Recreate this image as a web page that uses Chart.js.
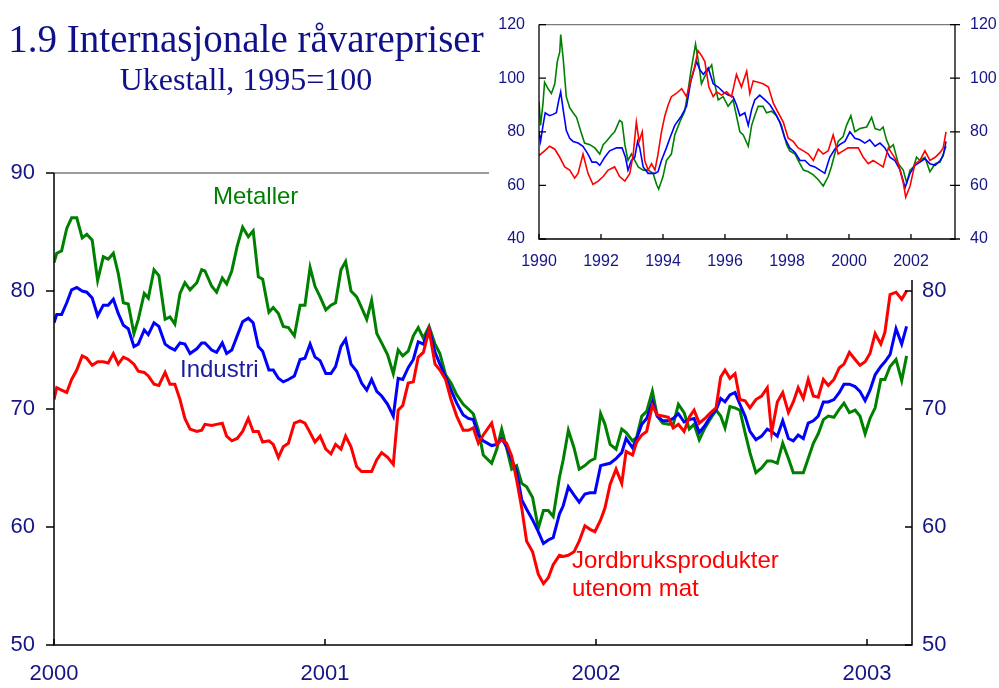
<!DOCTYPE html>
<html>
<head>
<meta charset="utf-8">
<script src="https://cdn.jsdelivr.net/npm/chart.js@4.4.1/dist/chart.umd.min.js"></script>
<style>
  html, body { margin: 0; padding: 0; background: #fff; }
  #wrap { position: relative; width: 999px; height: 688px; overflow: hidden; }
  #mainChart { position: absolute; left: 0; top: 0; }
  #insetChart { position: absolute; left: 489px; top: 0; background: #fff; }
  .t { position: absolute; white-space: nowrap; line-height: 1; }
  .title { font-family: "Liberation Serif", "Times New Roman", serif; color: #10108a; width: 492px; text-align: center; left: 0; }
  .lab { font-family: "Liberation Sans", Arial, sans-serif; font-size: 24px; }
</style>
</head>
<body>
<div id="wrap">
  <canvas id="mainChart" width="999" height="688"></canvas>
  <canvas id="insetChart" width="510" height="280"></canvas>
  <div class="t title" style="top:19px; font-size:39px;">1.9 Internasjonale råvarepriser</div>
  <div class="t title" style="top:63px; font-size:32px;">Ukestall, 1995=100</div>
  <div class="t lab" style="left:213px; top:184px; color:#008000;">Metaller</div>
  <div class="t lab" style="left:180px; top:357px; color:#1c1c9c;">Industri</div>
  <div class="t lab" style="left:572px; top:546px; color:#ff0000; line-height:28px;">Jordbruksprodukter<br>utenom mat</div>
</div>
<script>
// --- main chart: weekly figures 2000 - 2003 ---
const mainWeeks = [
  2000.000, 2000.010, 2000.028, 2000.047, 2000.065, 2000.084, 2000.104, 2000.121, 2000.141, 2000.161,
  2000.182, 2000.200, 2000.219, 2000.237, 2000.256, 2000.274, 2000.295, 2000.311, 2000.333, 2000.348,
  2000.369, 2000.387, 2000.410, 2000.428, 2000.446, 2000.465, 2000.483, 2000.502, 2000.527, 2000.545,
  2000.557, 2000.582, 2000.600, 2000.621, 2000.637, 2000.656, 2000.676, 2000.696, 2000.717, 2000.735,
  2000.754, 2000.770,
  2000.793, 2000.809, 2000.828, 2000.846, 2000.865, 2000.887, 2000.908, 2000.926, 2000.945, 2000.963,
  2000.982, 2001.003, 2001.022, 2001.039, 2001.059, 2001.076, 2001.096, 2001.117, 2001.135, 2001.154,
  2001.172, 2001.191, 2001.209, 2001.231, 2001.252, 2001.270, 2001.287, 2001.307, 2001.326, 2001.344,
  2001.363, 2001.384, 2001.406, 2001.424, 2001.445, 2001.465, 2001.486, 2001.510, 2001.529, 2001.547,
  2001.566, 2001.584,
  2001.615, 2001.634, 2001.652, 2001.670, 2001.689, 2001.707, 2001.726, 2001.744, 2001.766, 2001.787,
  2001.806, 2001.824, 2001.842, 2001.865, 2001.879, 2001.898, 2001.919, 2001.938, 2001.959, 2001.978,
  2001.996, 2002.017, 2002.033, 2002.052, 2002.074, 2002.095, 2002.111, 2002.135, 2002.150, 2002.169,
  2002.187, 2002.208, 2002.226, 2002.246, 2002.267, 2002.285, 2002.304, 2002.325, 2002.344, 2002.362,
  2002.381,
  2002.402, 2002.423, 2002.443, 2002.460, 2002.476, 2002.494, 2002.513, 2002.531, 2002.550, 2002.568,
  2002.590, 2002.611, 2002.632, 2002.648, 2002.669, 2002.689, 2002.710, 2002.728, 2002.746, 2002.765,
  2002.783, 2002.802, 2002.820, 2002.839, 2002.857, 2002.878, 2002.898, 2002.915, 2002.935, 2002.956,
  2002.974, 2002.993, 2003.011, 2003.030, 2003.051, 2003.066, 2003.085, 2003.107, 2003.128, 2003.146
];

const metaller = [
  82.4, 83.2, 83.4, 85.3, 86.2, 86.2, 84.5, 84.8, 84.3, 80.9, 82.9, 82.7, 83.2, 81.5, 79.0, 78.9, 76.4, 77.6, 79.8, 79.4,
  81.8, 81.3, 77.6, 77.8, 77.2, 79.8, 80.7, 80.1, 80.7, 81.8, 81.7, 80.4, 79.9, 81.1, 80.6, 81.7, 83.8, 85.4, 84.6, 85.1,
  81.2, 81.0,
  78.2, 78.6, 78.1, 77.0, 76.9, 76.2, 78.8, 78.8, 82.0, 80.4, 79.5, 78.4, 78.8, 79.0, 81.8, 82.5, 80.0, 79.5, 78.6, 77.6,
  79.2, 76.4, 75.6, 74.6, 73.0, 75.0, 74.5, 74.9, 76.2, 76.9, 76.0, 77.0, 75.5, 74.7, 72.9, 72.2, 71.2, 70.4, 70.0, 69.6,
  68.2, 66.1,
  65.4, 66.6, 68.3, 66.7, 64.9, 65.2, 63.7, 63.4, 62.5, 59.9, 61.4, 61.4, 60.9, 64.2, 65.7, 68.2, 66.7, 64.9, 65.2, 65.6,
  65.8, 69.6, 68.7, 67.0, 66.6, 68.3, 68.0, 67.3, 67.6, 69.4, 69.8, 71.5, 69.4, 68.8, 68.7, 68.7, 70.4, 69.7, 68.3, 68.7,
  67.4,
  68.4, 69.2, 69.9, 69.4, 68.4, 70.2, 70.1, 69.9, 68.0, 66.3, 64.6, 65.0, 65.6, 65.6, 65.4, 67.1, 65.8, 64.6, 64.6, 64.6,
  65.8, 67.1, 67.9, 69.1, 69.4, 69.3, 70.0, 70.5, 69.7, 69.9, 69.4, 67.9, 69.2, 70.1, 72.5, 72.5, 73.6, 74.2, 72.4, 74.5
];

const industri = [
  77.3, 78.0, 78.0, 79.0, 80.1, 80.3, 80.0, 79.9, 79.4, 77.9, 78.8, 78.8, 79.3, 78.1, 77.1, 76.8, 75.3, 75.5, 76.7, 76.3,
  77.3, 77.0, 75.5, 75.2, 75.0, 75.6, 75.5, 74.7, 75.1, 75.6, 75.6, 75.0, 74.8, 75.6, 74.7, 75.0, 76.2, 77.4, 77.7, 77.3,
  75.3, 74.9,
  73.3, 73.3, 72.6, 72.3, 72.5, 72.8, 74.2, 74.3, 75.5, 74.4, 74.1, 73.0, 73.0, 73.6, 75.3, 75.9, 73.8, 73.2, 72.2, 71.6,
  72.5, 71.5, 71.1, 70.4, 69.4, 72.6, 72.5, 73.5, 74.2, 75.7, 75.5, 76.8, 74.8, 73.8, 72.7, 71.6, 70.5, 69.5, 69.2, 69.1,
  67.8, 67.3,
  66.9, 67.0, 67.5, 66.8, 65.7, 64.7, 62.3, 61.5, 60.6, 59.6, 58.6, 58.9, 59.1, 61.1, 61.8, 63.4, 62.7, 62.1, 62.8, 62.9,
  62.9, 65.2, 65.3, 65.4, 65.8, 66.3, 67.5, 66.7, 67.5, 68.7, 69.2, 70.6, 69.4, 69.0, 69.0, 69.2, 69.6, 68.9, 69.1, 69.2,
  68.0,
  68.6, 69.4, 69.9, 70.9, 70.6, 71.2, 71.4, 70.4, 69.4, 68.1, 67.4, 67.7, 68.3, 68.1, 67.7, 69.0, 67.5, 67.3, 67.8, 67.5,
  68.8, 69.0, 69.4, 70.6, 70.6, 70.8, 71.4, 72.1, 72.1, 71.9, 71.5, 70.7, 71.6, 72.9, 73.6, 74.0, 74.6, 76.8, 75.5, 77.0
];

const jordbruk = [
  70.8, 71.8, 71.6, 71.4, 72.5, 73.3, 74.5, 74.3, 73.7, 74.0, 74.0, 73.9, 74.7, 73.8, 74.4, 74.2, 73.8, 73.2, 73.1, 72.8,
  72.1, 72.0, 73.1, 72.1, 72.1, 70.8, 69.2, 68.3, 68.1, 68.2, 68.7, 68.6, 68.7, 68.8, 67.7, 67.3, 67.5, 68.1, 69.2, 68.1,
  68.1, 67.2,
  67.3, 67.0, 65.9, 66.8, 67.1, 68.8, 69.0, 68.8, 68.0, 67.2, 67.7, 66.6, 66.2, 67.0, 66.6, 67.7, 66.8, 65.1, 64.7, 64.7,
  64.7, 65.7, 66.3, 65.9, 65.3, 69.9, 70.3, 72.2, 72.3, 74.4, 74.8, 76.7, 73.8, 73.3, 72.5, 70.8, 69.4, 68.2, 68.2, 68.4,
  67.1, 67.8,
  68.8, 67.0, 67.4, 67.1, 66.0, 64.0, 61.6, 58.8, 57.9, 56.0, 55.2, 55.7, 56.8, 57.6, 57.5, 57.6, 57.9, 58.8, 60.1, 59.8,
  59.6, 60.6, 61.6, 63.6, 64.9, 63.7, 66.4, 66.1, 67.2, 67.8, 68.1, 70.3, 69.5, 69.4, 69.3, 68.4, 68.7, 68.1, 69.3, 69.9,
  68.8,
  69.2, 69.7, 70.1, 72.7, 73.3, 72.6, 73.0, 70.8, 70.7, 70.1, 70.8, 71.1, 71.8, 68.0, 70.6, 71.4, 69.7, 70.6, 71.8, 70.9,
  72.5, 71.1, 71.0, 72.5, 72.0, 72.5, 73.5, 73.8, 74.8, 74.2, 73.7, 74.0, 74.7, 76.4, 75.5, 76.5, 79.7, 79.9, 79.3, 80.0
];

const mainYTicks = [50, 60, 70, 80, 90];
const mainXTicks = [2000, 2001, 2002, 2003];

// --- inset: 1990 - 2003 ---
const insetMetYears = [
  1990.00, 1990.05, 1990.13, 1990.18, 1990.29, 1990.40, 1990.51, 1990.59, 1990.67, 1990.70, 1990.78, 1990.88, 1990.99,
  1991.10, 1991.21, 1991.37, 1991.47, 1991.64, 1991.80, 1991.96,
  1992.07, 1992.17, 1992.34, 1992.44, 1992.60, 1992.68, 1992.77, 1992.87, 1992.98,
  1993.09, 1993.20, 1993.36, 1993.52, 1993.68, 1993.79, 1993.86,
  1994.00, 1994.11, 1994.27, 1994.38, 1994.54, 1994.70, 1994.81, 1994.90,
  1995.05, 1995.16, 1995.24, 1995.40, 1995.57, 1995.67, 1995.78, 1995.94,
  1996.10, 1996.26, 1996.37, 1996.48, 1996.59, 1996.75, 1996.86, 1996.96,
  1997.07, 1997.23, 1997.34, 1997.50, 1997.66, 1997.82, 1997.99,
  1998.09, 1998.26, 1998.36, 1998.53, 1998.69, 1998.85,
  1999.01, 1999.17, 1999.33, 1999.43, 1999.54, 1999.65, 1999.81, 1999.92,
  2000.06, 2000.19, 2000.35, 2000.57, 2000.73, 2000.84,
  2001.00, 2001.10, 2001.21, 2001.32, 2001.43, 2001.59, 2001.75, 2001.86, 2001.97,
  2002.08, 2002.18, 2002.29, 2002.45, 2002.61, 2002.78, 2002.94,
  2003.04, 2003.13
];
const insetMet = [
  91.3, 82.4, 90.7, 98.5, 96.1, 94.3, 97.9, 106.2, 109.8, 116.3, 107.4, 93.1, 89.0,
  87.1, 85.4, 79.4, 75.8, 75.2, 74.0, 71.7,
  75.2, 76.4, 78.8, 80.0, 84.2, 83.6, 75.2, 69.3, 71.7,
  69.3, 66.9, 65.7, 65.7, 64.5, 60.4, 58.6,
  63.3, 69.3, 71.7, 78.8, 83.6, 87.7, 95.5, 102.6,
  112.7, 105.0, 97.9, 102.0, 105.0, 97.9, 91.9, 93.1,
  89.5, 91.9, 86.0, 80.0, 78.8, 74.6, 82.4, 86.0,
  89.5, 89.5, 87.1, 87.7, 86.0, 82.4, 75.2,
  72.9, 71.7, 69.3, 65.7, 65.1, 63.9,
  62.1, 59.8, 63.3, 66.9, 71.7, 76.4, 78.2, 82.4,
  86.0, 80.0, 81.2, 81.8, 85.4, 81.2,
  80.6, 81.8, 77.0, 74.0, 75.2, 68.1, 65.7, 61.0, 65.7,
  66.9, 70.5, 69.3, 70.5, 65.1, 68.1, 68.7,
  71.7, 74.6
];

const insetIndYears = [
  1990.00, 1990.05, 1990.13, 1990.20, 1990.34, 1990.45, 1990.56, 1990.64, 1990.70, 1990.78, 1990.88, 1990.99,
  1991.10, 1991.26, 1991.42, 1991.58, 1991.71, 1991.85, 1991.96,
  1992.12, 1992.28, 1992.50, 1992.68, 1992.79, 1992.87, 1992.98,
  1993.09, 1993.18, 1993.25, 1993.36, 1993.52, 1993.74, 1993.84, 1993.95,
  1994.11, 1994.22, 1994.38, 1994.60, 1994.76, 1994.90,
  1995.08, 1995.19, 1995.30, 1995.46, 1995.62, 1995.78, 1995.94,
  1996.10, 1996.26, 1996.37, 1996.48, 1996.64, 1996.75, 1996.86, 1996.96,
  1997.12, 1997.29, 1997.45, 1997.61, 1997.77, 1997.93,
  1998.09, 1998.26, 1998.42, 1998.58, 1998.74, 1998.90,
  1999.06, 1999.22, 1999.38, 1999.54, 1999.70, 1999.87,
  2000.03, 2000.19, 2000.35, 2000.51, 2000.67, 2000.84,
  2001.00, 2001.16, 2001.32, 2001.48, 2001.65, 2001.81, 2001.97,
  2002.13, 2002.29, 2002.45, 2002.61, 2002.78, 2002.94,
  2003.04, 2003.13
];
const insetInd = [
  80.0, 76.4, 82.4, 87.1, 86.0, 86.5, 87.1, 91.9, 94.9, 88.3, 80.6, 77.6,
  76.4, 75.8, 74.6, 71.7, 68.7, 68.7, 67.5,
  70.5, 72.9, 74.0, 74.0, 70.5, 65.7, 69.3,
  70.5, 76.4, 74.0, 66.9, 64.5, 64.5, 65.1, 69.3,
  74.0, 77.6, 82.4, 86.0, 89.5, 99.0,
  106.2, 103.2, 101.4, 103.8, 97.9, 96.7, 94.9,
  93.7, 93.1, 90.1, 86.0, 87.1, 82.4, 88.3, 91.9,
  93.7, 91.9, 90.1, 87.1, 83.6, 77.6,
  74.0, 72.3, 69.3, 69.3, 67.5, 66.9,
  65.7, 64.5, 70.5, 73.5, 75.2, 76.4,
  80.0, 77.6, 77.0, 75.8, 77.0, 74.6,
  75.8, 74.0, 70.5, 69.3, 65.7, 59.2, 64.5,
  67.5, 68.7, 69.9, 68.1, 67.5, 69.3,
  71.1, 76.4
];

const insetJordYears = [
  1990.00, 1990.18, 1990.34, 1990.51, 1990.67, 1990.83, 1990.99,
  1991.15, 1991.26, 1991.42, 1991.58, 1991.74, 1991.91,
  1992.07, 1992.23, 1992.44, 1992.60, 1992.77, 1992.93,
  1993.04, 1993.14, 1993.23, 1993.33, 1993.41, 1993.52, 1993.63, 1993.74, 1993.84, 1993.95,
  1994.06, 1994.17, 1994.27, 1994.43, 1994.60, 1994.76, 1994.87,
  1995.01, 1995.13, 1995.24, 1995.35, 1995.48, 1995.62, 1995.73, 1995.89,
  1996.05, 1996.21, 1996.37, 1996.53, 1996.70, 1996.80, 1996.91,
  1997.07, 1997.23, 1997.40, 1997.56, 1997.72, 1997.88,
  1998.04, 1998.20, 1998.36, 1998.53, 1998.69, 1998.85,
  1999.01, 1999.17, 1999.33, 1999.49, 1999.65, 1999.81, 1999.97,
  2000.14, 2000.30, 2000.46, 2000.62, 2000.78, 2000.94,
  2001.10, 2001.27, 2001.43, 2001.59, 2001.75, 2001.83, 2001.97,
  2002.13, 2002.29, 2002.45, 2002.61, 2002.78, 2002.94,
  2003.04, 2003.13
];
const insetJord = [
  71.1, 72.9, 74.6, 73.5, 70.5, 66.9, 65.7,
  62.7, 64.5, 71.7, 64.5, 60.4, 61.6,
  63.3, 65.7, 66.9, 63.3, 61.6, 64.5,
  71.7, 83.6, 76.4, 80.0, 69.3, 65.7, 68.1, 65.7, 71.7, 80.0,
  86.0, 90.1, 93.1, 94.3, 96.1, 93.1, 97.9,
  103.8, 110.3, 108.5, 106.2, 96.7, 93.1, 94.9, 93.7,
  94.9, 93.1, 101.4, 96.7, 102.6, 94.3, 99.0,
  98.5, 97.9, 96.7, 90.7, 87.1, 83.6,
  77.6, 76.4, 74.0, 72.9, 71.7, 69.3,
  73.5, 71.7, 72.9, 78.8, 71.7, 72.9, 74.0,
  74.0, 74.0, 70.5, 68.1, 69.3, 68.1,
  66.9, 74.0, 71.1, 68.1, 61.0, 55.6, 59.8,
  68.1, 69.3, 72.9, 69.3, 70.5, 72.3,
  74.0, 80.0
];

const insetYTicks = [40, 60, 80, 100, 120];
const insetXTicks = [1990, 1992, 1994, 1996, 1998, 2000, 2002];

const GREEN = '#008000';
const BLUE = '#0000ff';
const RED = '#ff0000';
const NAVY = '#151585';

function pts(xs, ys) {
  return xs.map((x, i) => ({ x: x, y: ys[i] }));
}

// frame + tick marks drawn from the scales
const framePlugin = {
  id: 'frame',
  afterDatasetsDraw(chart, args, opts) {
    const { ctx, chartArea: a, scales } = chart;
    ctx.save();
    ctx.lineWidth = opts.lineWidth;
    ctx.strokeStyle = '#7a7a7a';
    ctx.beginPath();
    ctx.moveTo(a.left, a.top);
    ctx.lineTo(a.right, a.top);
    ctx.stroke();
    ctx.strokeStyle = '#000';
    ctx.beginPath();
    ctx.moveTo(a.left, a.top);
    ctx.lineTo(a.left, a.bottom);
    ctx.lineTo(a.right, a.bottom);
    ctx.lineTo(a.right, a.top);
    ctx.stroke();
    ctx.beginPath();
    scales.y.ticks.forEach(t => {
      const p = scales.y.getPixelForValue(t.value);
      ctx.moveTo(a.left + opts.left[0], p); ctx.lineTo(a.left + opts.left[1], p);
      ctx.moveTo(a.right + opts.right[0], p); ctx.lineTo(a.right + opts.right[1], p);
    });
    scales.x.ticks.forEach(t => {
      const p = scales.x.getPixelForValue(t.value);
      ctx.moveTo(p, a.bottom + opts.bottom[0]); ctx.lineTo(p, a.bottom + opts.bottom[1]);
    });
    ctx.stroke();
    ctx.restore();
  }
};

function fixSize(w, h) {
  return function (scale) {
    if (w !== null) scale.width = w;
    if (h !== null) scale.height = h;
  };
}

function lineSet(data, color, width) {
  return {
    data: data,
    borderColor: color,
    borderWidth: width,
    pointRadius: 0,
    tension: 0,
    fill: false
  };
}

document.addEventListener('DOMContentLoaded', () => {
  // 1. main chart
  new Chart(document.getElementById('mainChart').getContext('2d'), {
    type: 'line',
    data: {
      datasets: [
        lineSet(pts(mainWeeks, jordbruk), RED, 3),
        lineSet(pts(mainWeeks, industri), BLUE, 3),
        lineSet(pts(mainWeeks, metaller), GREEN, 3)
      ]
    },
    options: {
      responsive: false,
      animation: false,
      events: [],
      layout: { padding: { top: 173, left: 0, right: 0, bottom: 0 } },
      plugins: {
        legend: { display: false },
        tooltip: { enabled: false },
        frame: { lineWidth: 1.5, left: [-8, 0], right: [-7, 0], bottom: [-6, 0] }
      },
      scales: {
        x: {
          type: 'linear', min: 2000, max: 2003.166,
          afterFit: fixSize(null, 43),
          afterBuildTicks: s => { s.ticks = mainXTicks.map(v => ({ value: v })); },
          grid: { display: false, drawTicks: false },
          border: { display: false },
          ticks: { padding: 16, color: NAVY, font: { family: 'Liberation Sans', size: 22 }, callback: v => String(v) }
        },
        y: {
          position: 'left', min: 50, max: 90,
          afterFit: fixSize(54, null),
          afterBuildTicks: s => { s.ticks = mainYTicks.map(v => ({ value: v })); },
          grid: { display: false, drawTicks: false },
          border: { display: false },
          ticks: { padding: 19, color: NAVY, font: { family: 'Liberation Sans', size: 22 } }
        },
        y2: {
          position: 'right', min: 50, max: 90,
          afterFit: fixSize(87, null),
          afterBuildTicks: s => { s.ticks = mainYTicks.map(v => ({ value: v })); },
          grid: { display: false, drawTicks: false },
          border: { display: false },
          ticks: { padding: 10, color: NAVY, font: { family: 'Liberation Sans', size: 22 } }
        }
      }
    },
    plugins: [framePlugin]
  });

  // 2. inset chart
  new Chart(document.getElementById('insetChart').getContext('2d'), {
    type: 'line',
    data: {
      datasets: [
        lineSet(pts(insetJordYears, insetJord), RED, 1.6),
        lineSet(pts(insetIndYears, insetInd), BLUE, 1.6),
        lineSet(pts(insetMetYears, insetMet), GREEN, 1.6)
      ]
    },
    options: {
      responsive: false,
      animation: false,
      events: [],
      layout: { padding: { top: 15, left: 0, right: 0, bottom: 0 } },
      plugins: {
        legend: { display: false },
        tooltip: { enabled: false },
        frame: { lineWidth: 1.3, left: [0, 7], right: [-5, 5], bottom: [-5, 0] }
      },
      scales: {
        x: {
          type: 'linear', min: 1990, max: 2003.42,
          afterFit: fixSize(null, 41),
          afterBuildTicks: s => { s.ticks = insetXTicks.map(v => ({ value: v })); },
          grid: { display: false, drawTicks: false },
          border: { display: false },
          ticks: { padding: 13, color: NAVY, font: { family: 'Liberation Sans', size: 16 }, callback: v => String(v) }
        },
        y: {
          position: 'left', min: 40, max: 120,
          afterFit: fixSize(50, null),
          afterBuildTicks: s => { s.ticks = insetYTicks.map(v => ({ value: v })); },
          grid: { display: false, drawTicks: false },
          border: { display: false },
          ticks: { padding: 14, color: NAVY, font: { family: 'Liberation Sans', size: 16 } }
        },
        y2: {
          position: 'right', min: 40, max: 120,
          afterFit: fixSize(44, null),
          afterBuildTicks: s => { s.ticks = insetYTicks.map(v => ({ value: v })); },
          grid: { display: false, drawTicks: false },
          border: { display: false },
          ticks: { padding: 15, color: NAVY, font: { family: 'Liberation Sans', size: 16 } }
        }
      }
    },
    plugins: [framePlugin]
  });
});
</script>
</body>
</html>
